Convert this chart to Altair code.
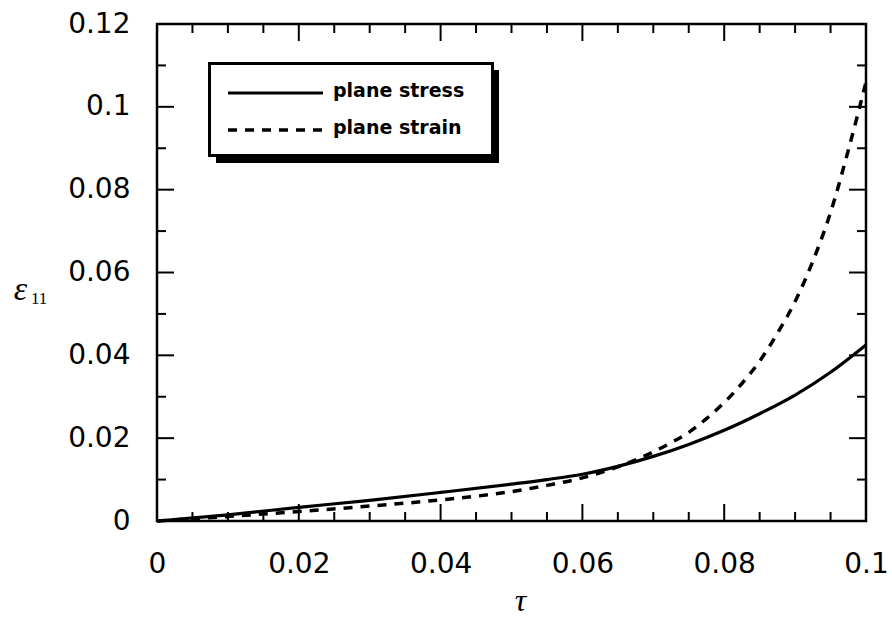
import altair as alt
import pandas as pd

# Strain component eps_11 against load parameter tau
tau_stress = [0, 0.01, 0.02, 0.03, 0.04, 0.05, 0.055, 0.06, 0.065, 0.07, 0.075, 0.08, 0.085, 0.09, 0.095, 0.1]
eps_stress = [0, 0.0015, 0.0033, 0.005, 0.0069, 0.0089, 0.0100, 0.0113, 0.0132, 0.0156, 0.0185, 0.0219,
              0.0259, 0.0304, 0.0359, 0.0425]

tau_strain = [0, 0.01, 0.02, 0.03, 0.04, 0.05, 0.055, 0.06, 0.065, 0.07, 0.0725, 0.075, 0.0775,
              0.08, 0.0825, 0.085, 0.0875, 0.09, 0.0925, 0.095, 0.0975, 0.1]
eps_strain = [0, 0.0011, 0.0023, 0.0036, 0.0051, 0.0071, 0.0086, 0.0104, 0.0131, 0.0167, 0.0189, 0.0214, 0.0247,
              0.0286, 0.0332, 0.0386, 0.0453, 0.053, 0.0627, 0.0745, 0.0895, 0.106]

series_names = ["plane stress", "plane strain"]

x_major = [0, 0.02, 0.04, 0.06, 0.08, 0.1]
x_minor = [0.005, 0.01, 0.015, 0.025, 0.03, 0.035, 0.045, 0.05, 0.055,
           0.065, 0.07, 0.075, 0.085, 0.09, 0.095]
y_major = [0, 0.02, 0.04, 0.06, 0.08, 0.1, 0.12]
y_minor = [0.01, 0.03, 0.05, 0.07, 0.09, 0.11]

x_title = "τ"
y_title = "ε"
y_title_sub = "11"

W, H = 709, 497
MAJOR, MINOR = 17, 9

xscale = alt.Scale(domain=[0, 0.1], nice=False, zero=False)
yscale = alt.Scale(domain=[0, 0.12], nice=False, zero=False)

x_axis = alt.Axis(
    values=x_major, format=".2~f", title=x_title,
    domain=False, ticks=False, tickSize=0, grid=False,
    labelFont="DejaVu Sans", labelFontSize=28, labelColor="black",
    labelPadding=51, labelBaseline="alphabetic", labelFlush=False, labelOverlap=False,
    titleFont="Liberation Serif", titleFontStyle="italic", titleFontWeight="normal",
    titleFontSize=32, titleColor="black", titleX=363, titleY=89,
    titleAlign="center", titleBaseline="alphabetic",
)
y_axis = alt.Axis(
    values=y_major, format=".2~f", title=y_title,
    domain=False, ticks=False, tickSize=0, grid=False,
    labelFont="DejaVu Sans", labelFontSize=28, labelColor="black",
    labelPadding=27, labelBaseline="middle", labelFlush=False, labelOverlap=False,
    titleFont="Liberation Serif", titleFontStyle="italic", titleFontWeight="normal",
    titleFontSize=34, titleColor="black", titleAngle=0, titleX=-137, titleY=275,
    titleAlign="center", titleBaseline="alphabetic",
)


def xenc(field):
    return alt.X(f"{field}:Q", scale=xscale, axis=x_axis)


def yenc(field):
    return alt.Y(f"{field}:Q", scale=yscale, axis=y_axis)


stress_df = pd.DataFrame({"tau": tau_stress, "eps": eps_stress})
strain_df = pd.DataFrame({"tau": tau_strain, "eps": eps_strain})

stress_line = alt.Chart(stress_df).mark_line(
    color="black", strokeWidth=3.2, interpolate="monotone"
).encode(x=xenc("tau"), y=yenc("eps"))

strain_line = alt.Chart(strain_df).mark_line(
    color="black", strokeWidth=3.5, strokeDash=[9, 8], interpolate="monotone"
).encode(x=xenc("tau"), y=yenc("eps"))


# Inward-pointing ticks on all four sides of the frame
def x_ticks(values, length, top):
    df = pd.DataFrame({"t": values})
    y0 = 0 if top else H
    y1 = length if top else H - length
    return alt.Chart(df).mark_rule(color="black", strokeWidth=2).encode(
        x=xenc("t"), y=alt.value(y0), y2=alt.value(y1))


def y_ticks(values, length, right):
    df = pd.DataFrame({"t": values})
    x0 = W if right else 0
    x1 = W - length if right else length
    return alt.Chart(df).mark_rule(color="black", strokeWidth=2).encode(
        y=yenc("t"), x=alt.value(x0), x2=alt.value(x1))


tick_layers = [
    x_ticks(x_major, MAJOR, False), x_ticks(x_minor, MINOR, False),
    x_ticks(x_major, MAJOR, True), x_ticks(x_minor, MINOR, True),
    y_ticks(y_major, MAJOR, False), y_ticks(y_minor, MINOR, False),
    y_ticks(y_major, MAJOR, True), y_ticks(y_minor, MINOR, True),
]

# Legend: shadowed box with line samples and labels
one = pd.DataFrame({"k": [0]})
shadow = alt.Chart(one).mark_rect(color="black").encode(
    x=alt.value(59), x2=alt.value(342), y=alt.value(46), y2=alt.value(139))
box = alt.Chart(one).mark_rect(fill="white", stroke="black", strokeWidth=3).encode(
    x=alt.value(52.5), x2=alt.value(335.5), y=alt.value(39.5), y2=alt.value(131.5))

legend_layers = []
for i, name in enumerate(series_names):
    row_y = 69 + 37 * i
    dash = [1, 0] if i == 0 else [9, 8]
    ldf = pd.DataFrame({"series": [name]})
    legend_layers.append(
        alt.Chart(ldf).mark_rule(color="black", strokeWidth=3 if i == 0 else 3.5, strokeDash=dash).encode(
            x=alt.value(71), x2=alt.value(166), y=alt.value(row_y)))
    legend_layers.append(
        alt.Chart(ldf).mark_text(
            align="left", baseline="alphabetic", font="DejaVu Sans", fontWeight="bold",
            fontSize=19, color="black").encode(
            x=alt.value(176), y=alt.value(row_y + 4), text="series:N"))

sub = alt.Chart(pd.DataFrame({"s": [y_title_sub]})).mark_text(
    align="left", baseline="alphabetic", font="Liberation Serif", fontSize=17, color="black"
).encode(x=alt.value(-126), y=alt.value(280), text="s:N")

chart = alt.layer(
    stress_line, strain_line, *tick_layers, shadow, box, *legend_layers, sub
).properties(
    width=W, height=H,
    autosize=alt.AutoSizeParams(type="none"),
    padding={"left": 157, "top": 24, "right": 26, "bottom": 96},
    background="white",
).configure_view(
    stroke="black", strokeWidth=2.5
)

chart.save("out.html", embed_options={"renderer": "svg", "actions": False})
